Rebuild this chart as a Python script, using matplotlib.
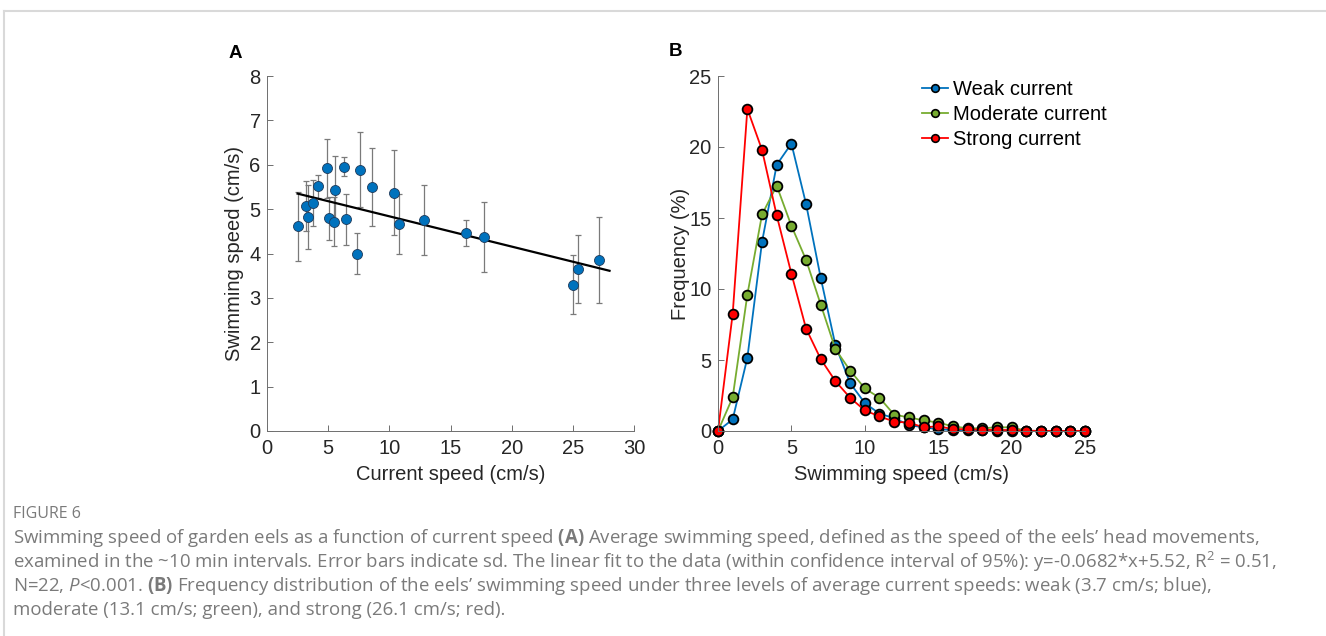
import numpy as np
import matplotlib
matplotlib.use("Agg")
import matplotlib.pyplot as plt
from matplotlib.lines import Line2D

# Panel A: mean swimming speed vs current speed (with sd)
current_speed = [2.53, 3.16, 3.38, 3.78, 4.14, 4.87, 5.06, 5.47, 5.58, 6.29, 6.48,
                 7.38, 7.60, 8.55, 10.37, 10.78, 12.80, 16.23, 17.70, 24.99, 25.40, 27.14]
swim_speed = [4.61, 5.07, 4.83, 5.13, 5.51, 5.92, 4.79, 4.72, 5.43, 5.96, 4.77,
              4.00, 5.89, 5.49, 5.37, 4.66, 4.76, 4.46, 4.38, 3.30, 3.65, 3.86]
swim_sd = [0.77, 0.56, 0.72, 0.52, 0.26, 0.67, 0.49, 0.56, 0.76, 0.21, 0.57,
           0.46, 0.84, 0.88, 0.96, 0.67, 0.79, 0.30, 0.79, 0.66, 0.77, 0.97]
fit_slope = -0.0682
fit_intercept = 5.52
fit_range = [2.5, 28.0]

# Panel B: frequency distributions
speed_bins = list(range(0, 26))
weak = [0, 0.82, 5.15, 13.32, 18.75, 20.24, 15.98, 10.77, 6.04, 3.37, 1.97, 1.22, 0.91,
        0.42, 0.26, 0.12, 0.07, 0.05, 0.04, 0.03, 0.02, 0, 0, 0, 0, 0]
moderate = [0, 2.37, 9.60, 15.25, 17.27, 14.45, 12.05, 8.90, 5.76, 4.26, 3.00, 2.34, 1.15,
            0.96, 0.75, 0.59, 0.33, 0.19, 0.19, 0.26, 0.26, 0.02, 0, 0, 0, 0]
strong = [0, 8.24, 22.68, 19.79, 15.18, 11.08, 7.21, 5.06, 3.51, 2.34, 1.45, 1.03, 0.66,
          0.59, 0.26, 0.33, 0.14, 0.12, 0.09, 0.07, 0.07, 0.02, 0.01, 0.01, 0.01, 0.01]
series_labels = ["Weak current", "Moderate current", "Strong current"]
series_colors = ["#0072BD", "#77AC30", "#FF0000"]

caption_title = "FIGURE 6"
caption_lines = [
    r"Swimming speed of garden eels as a function of current speed $\mathbf{(A)}$ Average swimming speed, defined as the speed of the eels’ head movements,",
    r"examined in the ~10 min intervals. Error bars indicate sd. The linear fit to the data (within confidence interval of 95%): y=-0.0682*x+5.52, R$^2$ = 0.51,",
    r"N=22, $\mathit{P}$<0.001. $\mathbf{(B)}$ Frequency distribution of the eels’ swimming speed under three levels of average current speeds: weak (3.7 cm/s; blue),",
    r"moderate (13.1 cm/s; green), and strong (26.1 cm/s; red).",
]

plt.rcParams["font.family"] = ["Liberation Sans", "DejaVu Sans"]
plt.rcParams["mathtext.fontset"] = "custom"
plt.rcParams["mathtext.rm"] = "Open Sans"
plt.rcParams["mathtext.bf"] = "Open Sans:bold"
plt.rcParams["mathtext.it"] = "Open Sans:italic"

W, H = 1326, 636
fig = plt.figure(figsize=(W / 100, H / 100), dpi=100)

text_col = "#262626"
axis_col = "#6e6e6e"
fs = 14.5


def style_axes(ax):
    for side in ["top", "right"]:
        ax.spines[side].set_visible(False)
    for side in ["left", "bottom"]:
        ax.spines[side].set_color(axis_col)
        ax.spines[side].set_linewidth(0.7)
    ax.tick_params(direction="in", length=4, width=0.7, color=axis_col,
                   labelsize=fs, labelcolor=text_col)
    ax.tick_params(axis="x", pad=6)
    ax.tick_params(axis="y", pad=4.5)


# ---- Panel A ----
axA = fig.add_axes([267 / W, 1 - 431 / H, 367 / W, 355 / H])
axA.errorbar(current_speed, swim_speed, yerr=swim_sd, fmt="none", ecolor="#7a7a7a",
             elinewidth=0.9, capsize=2.5, capthick=0.9, zorder=1)
xfit = np.array(fit_range)
axA.plot(xfit, fit_slope * xfit + fit_intercept, color="black", lw=1.6, zorder=2)
axA.plot(current_speed, swim_speed, "o", color="#0072BD", markeredgecolor="#1f3a5a",
         markeredgewidth=0.6, markersize=7.2, zorder=3, linestyle="none")
axA.set_xlim(0, 30)
axA.set_ylim(0, 8)
axA.set_xticks(range(0, 31, 5))
axA.set_yticks(range(0, 9))
style_axes(axA)
axA.set_xlabel("Current speed (cm/s)", fontsize=fs, color=text_col)
axA.set_ylabel("Swimming speed (cm/s)", fontsize=fs, color=text_col)
axA.xaxis.set_label_coords(0.5, -43 / 355, transform=axA.transAxes)
axA.yaxis.set_label_coords(-33 / 367, 0.5, transform=axA.transAxes)
axA.xaxis.label.set_va("center")
axA.yaxis.label.set_va("center")

# ---- Panel B ----
axB = fig.add_axes([718 / W, 1 - 431 / H, 367 / W, 355 / H])
for vals, lab, col in zip([weak, moderate, strong], series_labels, series_colors):
    axB.plot(speed_bins, vals, "-o", color=col, lw=1.3, markerfacecolor=col,
             markeredgecolor="black", markeredgewidth=1.3, markersize=7, label=lab,
             clip_on=False)
axB.set_xlim(0, 25)
axB.set_ylim(0, 25)
axB.set_xticks(range(0, 26, 5))
axB.set_yticks(range(0, 26, 5))
style_axes(axB)
axB.set_xlabel("Swimming speed (cm/s)", fontsize=fs, color=text_col)
axB.set_ylabel("Frequency (%)", fontsize=fs, color=text_col)
axB.xaxis.set_label_coords(0.5, -43 / 355, transform=axB.transAxes)
axB.yaxis.set_label_coords(-38 / 367, 0.5, transform=axB.transAxes)
axB.xaxis.label.set_va("center")
axB.yaxis.label.set_va("center")
leg = axB.legend(loc="upper left", bbox_to_anchor=(0.534, 1.012), frameon=False,
                 fontsize=fs, handlelength=1.3, handletextpad=0.25, labelspacing=0.3,
                 borderaxespad=0)
for h in leg.legend_handles:
    h.set_markersize(5.5)
    h.set_markeredgewidth(1.2)

# panel letters
fig.text(235 / W, 1 - 54 / H, "A", fontsize=13.5, fontweight="bold", ha="center", va="center")
fig.text(676 / W, 1 - 51 / H, "B", fontsize=13.5, fontweight="bold", ha="center", va="center")

# frame lines (top and left rules)
fig.add_artist(Line2D([4 / W, 1.0], [1 - 11 / H, 1 - 11 / H], color="#d9d9d9", lw=1.5))
fig.add_artist(Line2D([4 / W, 4 / W], [1 - 11 / H, 0.0], color="#d9d9d9", lw=1.5))

# caption
cap_col = "#7a7a7a"
fig.text(13 / W, 1 - 514 / H, caption_title, fontsize=11.5, color=cap_col,
         family="Open Sans", va="center")
for i, line in enumerate(caption_lines):
    fig.text(13 / W, 1 - (538 + 24 * i) / H, line, fontsize=13.4, color=cap_col,
             family="Open Sans", va="center")

fig.savefig("out.png", dpi=100)
